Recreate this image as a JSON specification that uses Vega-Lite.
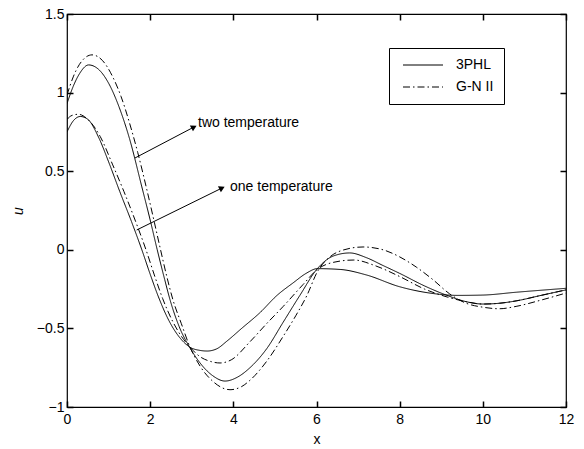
{
  "$schema": "https://vega.github.io/schema/vega-lite/v6.json",
  "width": 499,
  "height": 393,
  "autosize": {"type": "none"},
  "padding": {"left": 67, "top": 14, "right": 18, "bottom": 42},
  "background": "white",
  "config": {
    "view": {"stroke": "black", "strokeWidth": 1.2},
    "font": "Liberation Sans",
    "axis": {"grid": false, "domain": false, "ticks": true, "offset": -6, "tickSize": 6, "tickColor": "black", "tickWidth": 1.5, "tickOpacity": 1, "labelColor": "black", "titleColor": "black", "labelFont": "Liberation Sans", "titleFont": "Liberation Sans", "labelFontSize": 14, "titleFontSize": 14, "titleFontWeight": "normal", "zindex": 1}
  },
  "datasets": {
    "curves": [
      {"s": "two-3PHL", "m": "3PHL", "x": 0, "u": 0.93},
      {"s": "two-3PHL", "m": "3PHL", "x": 0.15, "u": 1.04},
      {"s": "two-3PHL", "m": "3PHL", "x": 0.3, "u": 1.12},
      {"s": "two-3PHL", "m": "3PHL", "x": 0.52, "u": 1.176},
      {"s": "two-3PHL", "m": "3PHL", "x": 0.75, "u": 1.15},
      {"s": "two-3PHL", "m": "3PHL", "x": 1.0, "u": 1.06},
      {"s": "two-3PHL", "m": "3PHL", "x": 1.25, "u": 0.91},
      {"s": "two-3PHL", "m": "3PHL", "x": 1.5, "u": 0.71},
      {"s": "two-3PHL", "m": "3PHL", "x": 1.8, "u": 0.4},
      {"s": "two-3PHL", "m": "3PHL", "x": 2.0, "u": 0.19},
      {"s": "two-3PHL", "m": "3PHL", "x": 2.17, "u": 0.0},
      {"s": "two-3PHL", "m": "3PHL", "x": 2.35, "u": -0.19},
      {"s": "two-3PHL", "m": "3PHL", "x": 2.48, "u": -0.32},
      {"s": "two-3PHL", "m": "3PHL", "x": 2.7, "u": -0.49},
      {"s": "two-3PHL", "m": "3PHL", "x": 2.96, "u": -0.625},
      {"s": "two-3PHL", "m": "3PHL", "x": 3.2, "u": -0.72},
      {"s": "two-3PHL", "m": "3PHL", "x": 3.5, "u": -0.8},
      {"s": "two-3PHL", "m": "3PHL", "x": 3.8, "u": -0.835},
      {"s": "two-3PHL", "m": "3PHL", "x": 4.1, "u": -0.81},
      {"s": "two-3PHL", "m": "3PHL", "x": 4.4, "u": -0.75},
      {"s": "two-3PHL", "m": "3PHL", "x": 4.8, "u": -0.63},
      {"s": "two-3PHL", "m": "3PHL", "x": 5.2, "u": -0.46},
      {"s": "two-3PHL", "m": "3PHL", "x": 5.6, "u": -0.29},
      {"s": "two-3PHL", "m": "3PHL", "x": 6.02, "u": -0.12},
      {"s": "two-3PHL", "m": "3PHL", "x": 6.4, "u": -0.04},
      {"s": "two-3PHL", "m": "3PHL", "x": 6.8, "u": -0.02},
      {"s": "two-3PHL", "m": "3PHL", "x": 7.2, "u": -0.05},
      {"s": "two-3PHL", "m": "3PHL", "x": 7.6, "u": -0.1},
      {"s": "two-3PHL", "m": "3PHL", "x": 8.0, "u": -0.15},
      {"s": "two-3PHL", "m": "3PHL", "x": 8.6, "u": -0.23},
      {"s": "two-3PHL", "m": "3PHL", "x": 9.14, "u": -0.29},
      {"s": "two-3PHL", "m": "3PHL", "x": 9.6, "u": -0.33},
      {"s": "two-3PHL", "m": "3PHL", "x": 10.0, "u": -0.345},
      {"s": "two-3PHL", "m": "3PHL", "x": 10.4, "u": -0.34},
      {"s": "two-3PHL", "m": "3PHL", "x": 10.8, "u": -0.325},
      {"s": "two-3PHL", "m": "3PHL", "x": 11.4, "u": -0.29},
      {"s": "two-3PHL", "m": "3PHL", "x": 12, "u": -0.255},

      {"s": "two-GN", "m": "G-N II", "x": 0, "u": 0.985},
      {"s": "two-GN", "m": "G-N II", "x": 0.15, "u": 1.1},
      {"s": "two-GN", "m": "G-N II", "x": 0.3, "u": 1.18},
      {"s": "two-GN", "m": "G-N II", "x": 0.6, "u": 1.24},
      {"s": "two-GN", "m": "G-N II", "x": 0.85, "u": 1.205},
      {"s": "two-GN", "m": "G-N II", "x": 1.1, "u": 1.1},
      {"s": "two-GN", "m": "G-N II", "x": 1.3, "u": 0.975},
      {"s": "two-GN", "m": "G-N II", "x": 1.5, "u": 0.81},
      {"s": "two-GN", "m": "G-N II", "x": 1.7, "u": 0.62},
      {"s": "two-GN", "m": "G-N II", "x": 1.9, "u": 0.405},
      {"s": "two-GN", "m": "G-N II", "x": 2.1, "u": 0.176},
      {"s": "two-GN", "m": "G-N II", "x": 2.25, "u": 0.0},
      {"s": "two-GN", "m": "G-N II", "x": 2.4, "u": -0.17},
      {"s": "two-GN", "m": "G-N II", "x": 2.55, "u": -0.32},
      {"s": "two-GN", "m": "G-N II", "x": 2.75, "u": -0.47},
      {"s": "two-GN", "m": "G-N II", "x": 2.96, "u": -0.62},
      {"s": "two-GN", "m": "G-N II", "x": 3.2, "u": -0.74},
      {"s": "two-GN", "m": "G-N II", "x": 3.5, "u": -0.835},
      {"s": "two-GN", "m": "G-N II", "x": 3.92, "u": -0.89},
      {"s": "two-GN", "m": "G-N II", "x": 4.2, "u": -0.87},
      {"s": "two-GN", "m": "G-N II", "x": 4.4, "u": -0.83},
      {"s": "two-GN", "m": "G-N II", "x": 4.8, "u": -0.71},
      {"s": "two-GN", "m": "G-N II", "x": 5.2, "u": -0.55},
      {"s": "two-GN", "m": "G-N II", "x": 5.5, "u": -0.42},
      {"s": "two-GN", "m": "G-N II", "x": 5.77, "u": -0.29},
      {"s": "two-GN", "m": "G-N II", "x": 6.02, "u": -0.14},
      {"s": "two-GN", "m": "G-N II", "x": 6.3, "u": -0.05},
      {"s": "two-GN", "m": "G-N II", "x": 6.6, "u": -0.005},
      {"s": "two-GN", "m": "G-N II", "x": 7.12, "u": 0.018},
      {"s": "two-GN", "m": "G-N II", "x": 7.6, "u": 0.0},
      {"s": "two-GN", "m": "G-N II", "x": 8.0, "u": -0.045},
      {"s": "two-GN", "m": "G-N II", "x": 8.4, "u": -0.11},
      {"s": "two-GN", "m": "G-N II", "x": 8.8, "u": -0.19},
      {"s": "two-GN", "m": "G-N II", "x": 9.2, "u": -0.28},
      {"s": "two-GN", "m": "G-N II", "x": 9.6, "u": -0.34},
      {"s": "two-GN", "m": "G-N II", "x": 10.0, "u": -0.365},
      {"s": "two-GN", "m": "G-N II", "x": 10.4, "u": -0.375},
      {"s": "two-GN", "m": "G-N II", "x": 10.8, "u": -0.36},
      {"s": "two-GN", "m": "G-N II", "x": 11.4, "u": -0.32},
      {"s": "two-GN", "m": "G-N II", "x": 12, "u": -0.275},

      {"s": "one-3PHL", "m": "3PHL", "x": 0, "u": 0.75},
      {"s": "one-3PHL", "m": "3PHL", "x": 0.15, "u": 0.82},
      {"s": "one-3PHL", "m": "3PHL", "x": 0.32, "u": 0.848},
      {"s": "one-3PHL", "m": "3PHL", "x": 0.5, "u": 0.83},
      {"s": "one-3PHL", "m": "3PHL", "x": 0.77, "u": 0.71},
      {"s": "one-3PHL", "m": "3PHL", "x": 1.0, "u": 0.56},
      {"s": "one-3PHL", "m": "3PHL", "x": 1.27, "u": 0.37},
      {"s": "one-3PHL", "m": "3PHL", "x": 1.55, "u": 0.18},
      {"s": "one-3PHL", "m": "3PHL", "x": 1.8, "u": 0.0},
      {"s": "one-3PHL", "m": "3PHL", "x": 2.0, "u": -0.155},
      {"s": "one-3PHL", "m": "3PHL", "x": 2.2, "u": -0.3},
      {"s": "one-3PHL", "m": "3PHL", "x": 2.45, "u": -0.45},
      {"s": "one-3PHL", "m": "3PHL", "x": 2.7, "u": -0.555},
      {"s": "one-3PHL", "m": "3PHL", "x": 2.96, "u": -0.62},
      {"s": "one-3PHL", "m": "3PHL", "x": 3.2, "u": -0.64},
      {"s": "one-3PHL", "m": "3PHL", "x": 3.37, "u": -0.644},
      {"s": "one-3PHL", "m": "3PHL", "x": 3.6, "u": -0.63},
      {"s": "one-3PHL", "m": "3PHL", "x": 3.85, "u": -0.58},
      {"s": "one-3PHL", "m": "3PHL", "x": 4.2, "u": -0.5},
      {"s": "one-3PHL", "m": "3PHL", "x": 4.64, "u": -0.4},
      {"s": "one-3PHL", "m": "3PHL", "x": 5.05, "u": -0.29},
      {"s": "one-3PHL", "m": "3PHL", "x": 5.44, "u": -0.21},
      {"s": "one-3PHL", "m": "3PHL", "x": 5.75, "u": -0.15},
      {"s": "one-3PHL", "m": "3PHL", "x": 6.02, "u": -0.12},
      {"s": "one-3PHL", "m": "3PHL", "x": 6.57, "u": -0.125},
      {"s": "one-3PHL", "m": "3PHL", "x": 7.2, "u": -0.16},
      {"s": "one-3PHL", "m": "3PHL", "x": 8.0, "u": -0.235},
      {"s": "one-3PHL", "m": "3PHL", "x": 8.8, "u": -0.278},
      {"s": "one-3PHL", "m": "3PHL", "x": 9.4, "u": -0.29},
      {"s": "one-3PHL", "m": "3PHL", "x": 10.0, "u": -0.288},
      {"s": "one-3PHL", "m": "3PHL", "x": 10.8, "u": -0.27},
      {"s": "one-3PHL", "m": "3PHL", "x": 12, "u": -0.245},

      {"s": "one-GN", "m": "G-N II", "x": 0, "u": 0.83},
      {"s": "one-GN", "m": "G-N II", "x": 0.12, "u": 0.855},
      {"s": "one-GN", "m": "G-N II", "x": 0.27, "u": 0.862},
      {"s": "one-GN", "m": "G-N II", "x": 0.5, "u": 0.83},
      {"s": "one-GN", "m": "G-N II", "x": 0.8, "u": 0.72},
      {"s": "one-GN", "m": "G-N II", "x": 1.1, "u": 0.54},
      {"s": "one-GN", "m": "G-N II", "x": 1.37, "u": 0.37},
      {"s": "one-GN", "m": "G-N II", "x": 1.65, "u": 0.18},
      {"s": "one-GN", "m": "G-N II", "x": 1.9, "u": 0.0},
      {"s": "one-GN", "m": "G-N II", "x": 2.1, "u": -0.16},
      {"s": "one-GN", "m": "G-N II", "x": 2.3, "u": -0.31},
      {"s": "one-GN", "m": "G-N II", "x": 2.55, "u": -0.46},
      {"s": "one-GN", "m": "G-N II", "x": 2.75, "u": -0.55},
      {"s": "one-GN", "m": "G-N II", "x": 2.96, "u": -0.62},
      {"s": "one-GN", "m": "G-N II", "x": 3.2, "u": -0.68},
      {"s": "one-GN", "m": "G-N II", "x": 3.45, "u": -0.71},
      {"s": "one-GN", "m": "G-N II", "x": 3.68, "u": -0.72},
      {"s": "one-GN", "m": "G-N II", "x": 3.95, "u": -0.7},
      {"s": "one-GN", "m": "G-N II", "x": 4.4, "u": -0.585},
      {"s": "one-GN", "m": "G-N II", "x": 4.8, "u": -0.47},
      {"s": "one-GN", "m": "G-N II", "x": 5.2, "u": -0.36},
      {"s": "one-GN", "m": "G-N II", "x": 5.68, "u": -0.22},
      {"s": "one-GN", "m": "G-N II", "x": 6.02, "u": -0.125},
      {"s": "one-GN", "m": "G-N II", "x": 6.4, "u": -0.08},
      {"s": "one-GN", "m": "G-N II", "x": 6.9, "u": -0.065},
      {"s": "one-GN", "m": "G-N II", "x": 7.4, "u": -0.1},
      {"s": "one-GN", "m": "G-N II", "x": 8.0, "u": -0.17},
      {"s": "one-GN", "m": "G-N II", "x": 8.6, "u": -0.25},
      {"s": "one-GN", "m": "G-N II", "x": 9.14, "u": -0.3},
      {"s": "one-GN", "m": "G-N II", "x": 9.6, "u": -0.33},
      {"s": "one-GN", "m": "G-N II", "x": 10.0, "u": -0.345},
      {"s": "one-GN", "m": "G-N II", "x": 10.4, "u": -0.34},
      {"s": "one-GN", "m": "G-N II", "x": 10.8, "u": -0.325},
      {"s": "one-GN", "m": "G-N II", "x": 11.4, "u": -0.29},
      {"s": "one-GN", "m": "G-N II", "x": 12, "u": -0.255}
    ],
    "notes": [
      {"label": "two temperature", "x": 1.635, "u": 0.584, "x2": 3.054, "u2": 0.781, "tx": 3.15, "tu": 0.805, "ang": -27.7},
      {"label": "one temperature", "x": 1.676, "u": 0.126, "x2": 3.728, "u2": 0.393, "tx": 3.92, "tu": 0.4, "ang": -26.2}
    ]
  },
  "layer": [
    {
      "data": {"name": "curves"},
      "mark": {"type": "line", "color": "black", "strokeWidth": 1, "interpolate": "monotone", "clip": true},
      "encoding": {
        "x": {"field": "x", "type": "quantitative", "scale": {"domain": [0, 12], "nice": false, "zero": false},
              "axis": {"orient": "bottom", "values": [0, 2, 4, 6, 8, 10, 12], "title": "x", "labelPadding": 5, "titlePadding": 6, "labelFlush": false, "ticks": true, "tickSize": 6, "tickColor": "black"}},
        "y": {"field": "u", "type": "quantitative", "scale": {"domain": [-1, 1.5], "nice": false, "zero": false},
              "axis": {"orient": "left", "values": [-1, -0.5, 0, 0.5, 1, 1.5], "title": "u", "titleFontStyle": "italic", "labelPadding": 3, "titlePadding": 11, "labelFlush": false, "format": "~g", "ticks": true, "tickSize": 6, "tickColor": "black"}},
        "detail": {"field": "s"},
        "strokeDash": {"field": "m", "type": "nominal",
          "scale": {"domain": ["3PHL", "G-N II"], "range": [[1, 0], [7, 3, 1.5, 3]]},
          "legend": {"orient": "none", "legendX": 322, "legendY": 34, "title": null, "strokeColor": "black", "fillColor": "white", "padding": 10, "symbolType": "M-4,0H4", "symbolSize": 100, "symbolOffset": 17, "symbolStrokeColor": "black", "symbolStrokeWidth": 1, "labelFontSize": 14, "labelFont": "Liberation Sans", "labelColor": "black", "labelOffset": 26, "rowPadding": 8, "cornerRadius": 0}}
      }
    },
    {
      "data": {"name": "notes"},
      "mark": {"type": "rule", "color": "black", "strokeWidth": 1},
      "encoding": {
        "x": {"field": "x", "type": "quantitative", "axis": {"orient": "top", "values": [0, 2, 4, 6, 8, 10, 12], "labels": false, "title": null, "ticks": true, "tickSize": 6, "tickColor": "black"}},
        "y": {"field": "u", "type": "quantitative", "axis": {"orient": "right", "values": [-1, -0.5, 0, 0.5, 1, 1.5], "labels": false, "title": null, "ticks": true, "tickSize": 6, "tickColor": "black"}},
        "x2": {"field": "x2"},
        "y2": {"field": "u2"}
      }
    },
    {
      "data": {"name": "notes"},
      "mark": {"type": "point", "shape": "triangle-right", "filled": true, "color": "black", "size": 45, "opacity": 1},
      "encoding": {
        "x": {"field": "x2", "type": "quantitative", "axis": null},
        "y": {"field": "u2", "type": "quantitative", "axis": null},
        "angle": {"field": "ang", "type": "quantitative", "scale": null}
      }
    },
    {
      "data": {"name": "notes"},
      "mark": {"type": "text", "align": "left", "baseline": "middle", "fontSize": 14, "font": "Liberation Sans", "color": "black"},
      "encoding": {
        "x": {"field": "tx", "type": "quantitative", "axis": null},
        "y": {"field": "tu", "type": "quantitative", "axis": null},
        "text": {"field": "label"}
      }
    }
  ]
}
